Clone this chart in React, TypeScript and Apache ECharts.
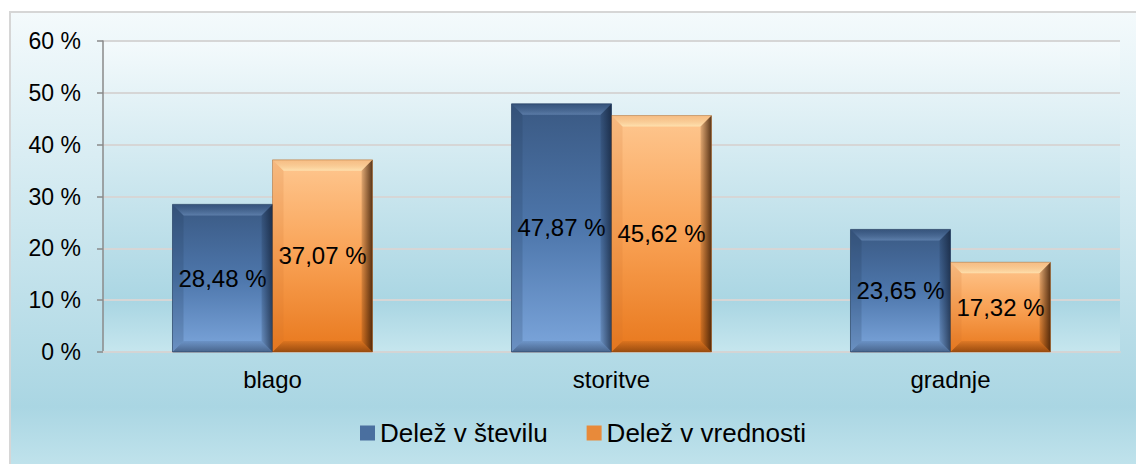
import React, { useEffect, useRef } from "react";
import * as echarts from "echarts";

const categories = ["blago", "storitve", "gradnje"];
const seriesNames = ["Delež v številu", "Delež v vrednosti"];
const shareCount = [28.48, 47.87, 23.65];
const shareValue = [37.07, 45.62, 17.32];
const yTicks = { min: 0, max: 60, interval: 10 };

const FONT = "'Liberation Sans', Arial, sans-serif";

const blueFill = new echarts.graphic.LinearGradient(0, 0, 0, 1, [
  { offset: 0, color: "#3a5983" },
  { offset: 0.5, color: "#4d76ab" },
  { offset: 1, color: "#7ca6dc" },
]);
const orangeFill = new echarts.graphic.LinearGradient(0, 0, 0, 1, [
  { offset: 0, color: "#fec790" },
  { offset: 0.5, color: "#f9a255" },
  { offset: 1, color: "#e8781d" },
]);

const bgGrad = () =>
  new echarts.graphic.LinearGradient(0, 0, 0, 1, [
    { offset: 0, color: "#f4fafc" },
    { offset: 0.84, color: "#aad6e3" },
    { offset: 1, color: "#c6e6ee" },
  ]);

export default function App() {
  const ref = useRef<HTMLDivElement>(null);
  useEffect(() => {
    if (!ref.current) return;
    const chart = echarts.init(ref.current, undefined, { renderer: "svg" });

    const bevelData: number[][] = [];
    shareCount.forEach((v, i) => bevelData.push([i, v, 0]));
    shareValue.forEach((v, i) => bevelData.push([i, v, 1]));

    const renderBevel = (params: any, api: any) => {
      const cat = api.value(0);
      const val = api.value(1);
      const s = api.value(2);
      const top = api.coord([cat, val]);
      const base = api.coord([cat, 0]);
      const band = api.size([1, 0])[0];
      const bw = band * 0.295;
      const x0 = s === 0 ? top[0] - bw : top[0];
      const x1 = x0 + bw;
      const y0 = top[1];
      const y1 = base[1];
      const b = 11;
      const rightGrad =
        s === 0
          ? new echarts.graphic.LinearGradient(1, 0, 0, 0, [
              { offset: 0, color: "rgba(15,28,50,0.7)" },
              { offset: 1, color: "rgba(15,28,50,0.15)" },
            ])
          : new echarts.graphic.LinearGradient(1, 0, 0, 0, [
              { offset: 0, color: "rgba(60,28,5,0.85)" },
              { offset: 1, color: "rgba(60,28,5,0.15)" },
            ]);
      const bottomGrad =
        s === 0
          ? new echarts.graphic.LinearGradient(0, 1, 0, 0, [
              { offset: 0, color: "rgba(20,35,60,0.5)" },
              { offset: 1, color: "rgba(20,35,60,0.1)" },
            ])
          : new echarts.graphic.LinearGradient(0, 1, 0, 0, [
              { offset: 0, color: "rgba(90,40,5,0.55)" },
              { offset: 1, color: "rgba(90,40,5,0.1)" },
            ]);
      const topGrad =
        s === 0
          ? new echarts.graphic.LinearGradient(0, 0, 0, 1, [
              { offset: 0, color: "rgba(40,65,100,0.2)" },
              { offset: 1, color: "rgba(150,185,230,0.35)" },
            ])
          : new echarts.graphic.LinearGradient(0, 0, 0, 1, [
              { offset: 0, color: "rgba(230,170,110,0.3)" },
              { offset: 1, color: "rgba(255,245,200,0.6)" },
            ]);
      return {
        type: "group",
        children: [
          {
            type: "polygon",
            shape: { points: [[x0, y0], [x1, y0], [x1 - b, y0 + b], [x0 + b, y0 + b]] },
            style: { fill: topGrad },
          },
          {
            type: "polygon",
            shape: { points: [[x0, y1], [x1, y1], [x1 - b, y1 - b], [x0 + b, y1 - b]] },
            style: { fill: bottomGrad },
          },
          {
            type: "polygon",
            shape: { points: [[x0, y0], [x0 + b, y0 + b], [x0 + b, y1 - b], [x0, y1]] },
            style: { fill: s === 0 ? "rgba(30,50,80,0.18)" : "rgba(200,110,40,0.15)" },
          },
          {
            type: "polygon",
            shape: { points: [[x1, y0], [x1 - b, y0 + b], [x1 - b, y1 - b], [x1, y1]] },
            style: { fill: rightGrad },
          },
          {
            type: "rect",
            shape: { x: x0, y: y0, width: bw, height: y1 - y0 },
            style: { fill: "none", stroke: s === 0 ? "rgba(40,65,100,0.7)" : "rgba(150,80,20,0.4)", lineWidth: 1 },
          },
        ],
      };
    };

    const labelFmt = (p: any) => `${p.value.toFixed(2).replace(".", ",")} %`;

    chart.setOption({
      animation: false,
      textStyle: { fontFamily: FONT },
      graphic: [
        {
          type: "rect",
          z: -100,
          shape: { x: 10, y: 12, width: 1150, height: 470 },
          style: { fill: bgGrad(), stroke: "#d6d6d6", lineWidth: 2 },
        },
      ],
      grid: {
        left: 103,
        right: 16,
        top: 41,
        bottom: 112,
        show: true,
        backgroundColor: bgGrad(),
        borderWidth: 0,
      },
      legend: {
        data: [
          { name: seriesNames[0], itemStyle: { color: "#4a6f9f" } },
          { name: seriesNames[1], itemStyle: { color: "#e88a3a" } },
        ],
        left: 355,
        top: 415,
        itemWidth: 15,
        itemHeight: 15,
        itemGap: 39,
        icon: "rect",
        textStyle: { fontSize: 26, color: "#000", fontFamily: FONT },
      },
      xAxis: {
        type: "category",
        data: categories,
        axisLine: { show: true, lineStyle: { color: "#d4d4d4", width: 2 } },
        axisTick: { show: false },
        axisLabel: { fontSize: 24, color: "#000", margin: 15, fontFamily: FONT },
        splitLine: { show: false },
      },
      yAxis: {
        type: "value",
        min: yTicks.min,
        max: yTicks.max,
        interval: yTicks.interval,
        axisLine: { show: true, lineStyle: { color: "#8a8a8a", width: 1.5 } },
        axisTick: { show: true, length: 6, lineStyle: { color: "#8a8a8a", width: 1.5 } },
        axisLabel: {
          fontSize: 23,
          color: "#000",
          margin: 22,
          fontFamily: FONT,
          formatter: (v: number) => `${v} %`,
        },
        splitLine: { show: true, lineStyle: { color: "#d6d6d6", width: 2 } },
      },
      series: [
        {
          name: seriesNames[0],
          type: "bar",
          data: shareCount,
          barWidth: "29.5%",
          barGap: "0%",
          z: 2,
          itemStyle: { color: blueFill },
          label: { show: true, position: "inside", fontSize: 24, color: "#000", fontFamily: FONT, formatter: labelFmt },
        },
        {
          name: seriesNames[1],
          type: "bar",
          data: shareValue,
          barWidth: "29.5%",
          barGap: "0%",
          z: 2,
          itemStyle: { color: orangeFill },
          label: { show: true, position: "inside", fontSize: 24, color: "#000", fontFamily: FONT, formatter: labelFmt },
        },
        {
          name: "bevel",
          type: "custom",
          silent: true,
          z: 3,
          renderItem: renderBevel,
          data: bevelData,
          encode: { x: 0, y: 1 },
        },
      ],
    });
    return () => chart.dispose();
  }, []);

  return (
    <div
      ref={ref}
      style={{ position: "fixed", left: 0, top: 0, width: 1136, height: 464, background: "#fff" }}
    />
  );
}
